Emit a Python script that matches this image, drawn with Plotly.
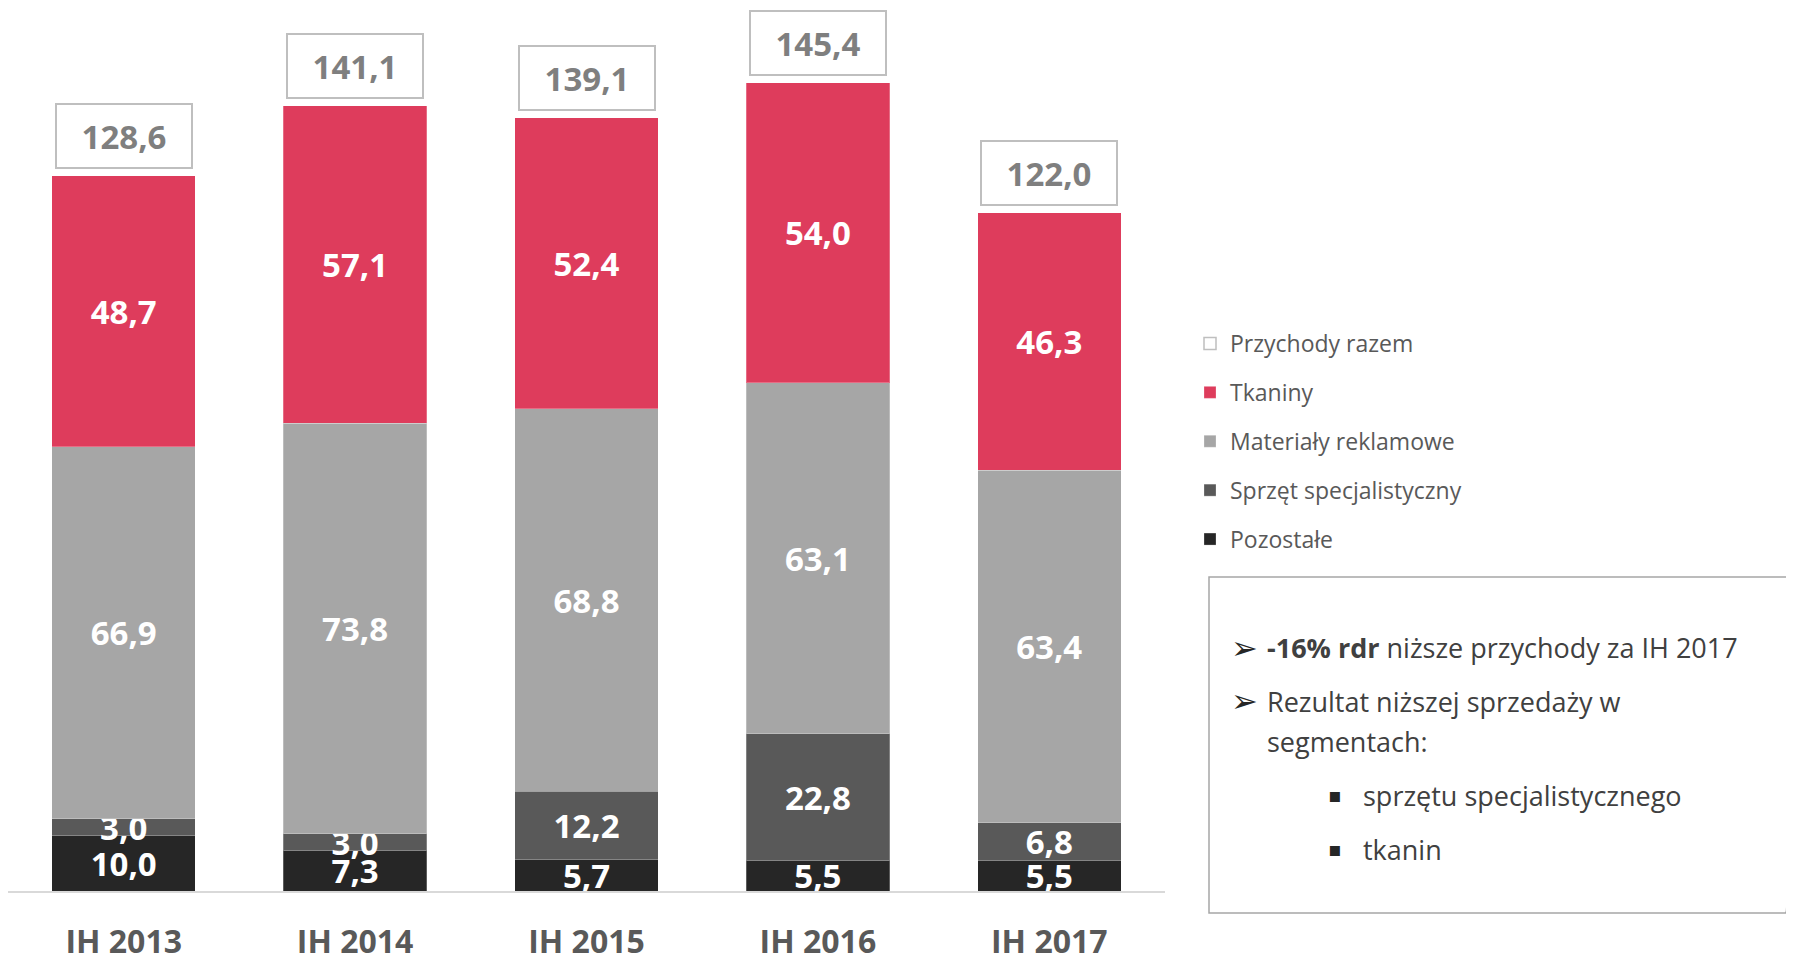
import plotly.graph_objects as go

categories = ["IH 2013", "IH 2014", "IH 2015", "IH 2016", "IH 2017"]
pozostale = [10.0, 7.3, 5.7, 5.5, 5.5]
sprzet = [3.0, 3.0, 12.2, 22.8, 6.8]
materialy = [66.9, 73.8, 68.8, 63.1, 63.4]
tkaniny = [48.7, 57.1, 52.4, 54.0, 46.3]
totals = [128.6, 141.1, 139.1, 145.4, 122.0]

series = [
    ("Pozostałe", pozostale, "#262626", 5),
    ("Sprzęt specjalistyczny", sprzet, "#595959", 4),
    ("Materiały reklamowe", materialy, "#a6a6a6", 3),
    ("Tkaniny", tkaniny, "#de3c5c", 2),
]

FONT = "Open Sans"
W, H = 1794, 956
OFF = 8  # page body margin
ML, MT = 0, 2
PW = 1157
PH = 881
MR = W - ML - PW
MB = H - MT - PH
YMAX = PH / 5.56


def px(x):
    return (x - OFF - ML) / PW


def py(y):
    return (H - MB - (y - OFF)) / PH


fig = go.Figure()
for name, vals, col, rank in series:
    fig.add_trace(go.Bar(
        x=categories, y=vals, name=name, width=0.62,
        marker=dict(color=col, line=dict(color="rgba(255,255,255,0.25)", width=1)),
        texttemplate="%{y:.1f}", textposition="inside", insidetextanchor="middle",
        constraintext="none",
        textfont=dict(family=FONT, size=33, color="white", weight="bold"),
        legendgroup=name, legendrank=rank, hoverinfo="skip",
    ))

fig.add_trace(go.Bar(
    x=categories, y=[None] * len(categories), name="Przychody razem",
    marker=dict(color="white", line=dict(color="#bfbfbf", width=1.5)),
    legendgroup="total", legendrank=1, hoverinfo="skip",
))

annotations = []
for c, t in zip(categories, totals):
    annotations.append(dict(
        x=c, y=t, xref="x", yref="y", yanchor="bottom", yshift=7,
        text=f"{t:.1f}".replace(".", ","), showarrow=False,
        font=dict(family=FONT, size=33, color="#7f7f7f", weight="bold"),
        bordercolor="#bfbfbf", borderwidth=2, borderpad=1,
        width=132, height=60, bgcolor="white",
    ))

# text box contents (page pixel coordinates)
TF = dict(family=FONT, size=27, color="#404040")
lines = [
    (1265, 648, "<b>-16% rdr</b> niższe przychody za IH 2017"),
    (1265, 701, "Rezultat niższej sprzedaży w"),
    (1265, 741, "segmentach:"),
    (1361, 795, "sprzętu specjalistycznego"),
    (1361, 849, "tkanin"),
]
for x, y, t in lines:
    annotations.append(dict(
        x=px(x), y=py(y), xref="paper", yref="paper", xanchor="left", yanchor="middle",
        text=t, showarrow=False, font=TF, align="left",
    ))
for y in (648, 701):
    annotations.append(dict(
        x=px(1229), y=py(y), xref="paper", yref="paper", xanchor="left", yanchor="middle",
        text="➢", showarrow=False, font=dict(family="DejaVu Sans", size=32, color="#262626"),
    ))
for y in (795, 849):
    annotations.append(dict(
        x=px(1326), y=py(y), xref="paper", yref="paper", xanchor="left", yanchor="middle",
        text="▪", showarrow=False, font=dict(family="DejaVu Sans", size=20, color="#262626"),
    ))

# box with folded corner
x0, y0, x1, y1 = 1209, 577, 1792, 913
fx, fy = 1786, 895
path = (f"M {px(x0)},{py(y0)} L {px(x1)},{py(y0)} L {px(x1)},{py(fy)} "
        f"L {px(fx)},{py(y1)} L {px(x0)},{py(y1)} Z")
fold = (f"M {px(x1)},{py(fy)} L {px(fx + 1)},{py(fy + 6)} L {px(fx)},{py(y1)} Z")
shapes = [
    dict(type="path", xref="paper", yref="paper", path=path,
         line=dict(color="#a6a6a6", width=1.5), fillcolor="white", layer="below"),
    dict(type="path", xref="paper", yref="paper", path=fold,
         line=dict(color="#a6a6a6", width=1), fillcolor="#d9d9d9"),
]

fig.update_layout(
    width=W, height=H,
    barmode="stack",
    separators=", ",
    plot_bgcolor="white", paper_bgcolor="white",
    margin=dict(l=ML, r=MR, t=MT, b=MB, pad=0, autoexpand=False),
    xaxis=dict(
        range=[-0.5, 4.5], showline=True, linecolor="#d9d9d9", linewidth=2,
        ticks="", showgrid=False, zeroline=False, automargin=False,
        tickfont=dict(family=FONT, size=32, color="#595959", weight="bold"),
        ticklabelstandoff=22,
    ),
    yaxis=dict(range=[0, YMAX], visible=False, showgrid=False, zeroline=False,
               automargin=False),
    legend=dict(
        xref="container", yref="container", x=1182 / W, y=1 - 314 / H,
        xanchor="left", yanchor="top", traceorder="grouped",
        tracegroupgap=16, font=dict(family=FONT, size=23, color="#595959"),
        bgcolor="rgba(0,0,0,0)",
    ),
    annotations=annotations,
    shapes=shapes,
    showlegend=True,
)

fig.write_html("out.html")
